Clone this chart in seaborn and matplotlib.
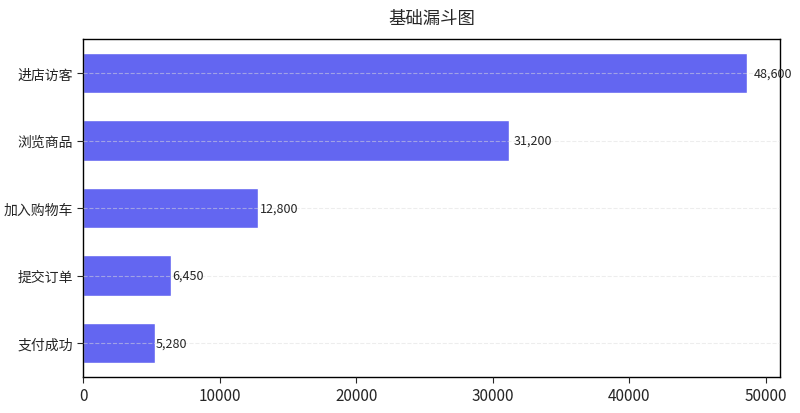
import seaborn as sns
import pandas as pd
import matplotlib
matplotlib.use('Agg')
import matplotlib.pyplot as plt

# 数据
stages = ['进店访客', '浏览商品', '加入购物车', '提交订单', '支付成功']
counts = [48600, 31200, 12800, 6450, 5280]

df = pd.DataFrame({'stage': stages, 'count': counts})

sns.set_style('white')
plt.rcParams['font.family'] = ['Noto Sans CJK SC', 'DejaVu Sans']
plt.rcParams['axes.unicode_minus'] = False

fig, ax = plt.subplots(figsize=(8, 4.14), dpi=100)

sns.barplot(data=df, x='count', y='stage', color='#6366F1', saturation=1,
            width=0.6, orient='h', ax=ax, zorder=2)

# 数值标签（右侧偏移 1%）
for i, v in enumerate(df['count']):
    ax.text(v * 1.01, i, f'{v:,}', va='center', ha='left', fontsize=9,
            clip_on=False, zorder=4)

# 虚线网格（很淡）
ax.grid(axis='y', linestyle='--', color='#dddddd', linewidth=0.8, alpha=0.5, zorder=3)
ax.set_axisbelow(False)
ax.set_xlim(0, max(counts) * 1.05)
ax.set_xlabel('')
ax.set_ylabel('')
ax.set_title('基础漏斗图', fontsize=12.5, pad=12)
ax.tick_params(axis='y', labelsize=10, length=4, left=True)
ax.tick_params(axis='x', labelsize=11, length=4, bottom=True)
for s in ax.spines.values():
    s.set_color('black')
    s.set_linewidth(1)

fig.subplots_adjust(left=0.104, right=0.975, top=0.903, bottom=0.087)
fig.savefig('out.png', dpi=100)
